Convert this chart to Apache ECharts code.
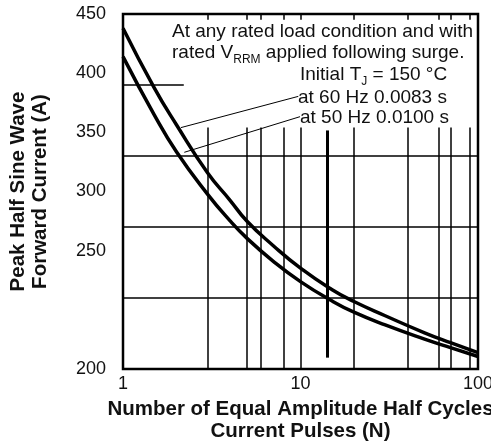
<!DOCTYPE html>
<html>
<head>
<meta charset="utf-8">
<script src="https://cdn.jsdelivr.net/npm/echarts@6/dist/echarts.min.js"></script>
<style>
html,body{margin:0;padding:0;background:#fff;}
#chart{width:491px;height:446px;}
</style>
</head>
<body>
<div id="chart"></div>
<script>
// ---- data ----
const pulses = [1, 1.5, 2, 3, 4, 5, 7, 10, 15, 20, 30, 50, 70, 100];
const current60Hz = [440, 398, 372, 338, 319, 304, 287, 271, 256, 247.5, 237.5, 225.5, 218.5, 211.5];
const current50Hz = [420, 379, 353, 323, 304.5, 292, 276, 261.5, 248, 240, 231, 221, 215, 208.8];
const yTickLabels = ['200', '', '250', '300', '350', '400', '450'];
const verticalGrid = [3, 5, 6, 8, 10, 20, 40, 60, 70, 90];
const fullHorizontalGrid = [350, 300, 250];
const partialHorizontalGrid = 400;
const markerPulse = 14.2;

const FONT = '"Liberation Sans", Arial, Helvetica, sans-serif';
const ink = '#000';

function seg(x1, y1, x2, y2, style) {
  const a = { coord: [x1, y1] };
  if (style) a.lineStyle = style;
  return [a, { coord: [x2, y2] }];
}

const gridSegs = [];
verticalGrid.forEach(v => {
  gridSegs.push(seg(v, 200, v, 370));
  gridSegs.push(seg(v, 450, v, 446));
});
fullHorizontalGrid.forEach(v => gridSegs.push(seg(1, v, 100, v)));
gridSegs.push(seg(1, partialHorizontalGrid, 2.2, partialHorizontalGrid));
gridSegs.push(seg(markerPulse, 208, markerPulse, 368, { width: 3, color: ink, type: 'solid' }));
// leader lines for annotations
gridSegs.push(seg(2.12, 370, 9.72, 392, { width: 1, color: ink, type: 'solid' }));
gridSegs.push(seg(2.215, 352.6, 9.94, 377.7, { width: 1, color: ink, type: 'solid' }));

const chart = echarts.init(document.getElementById('chart'), null, { renderer: 'canvas' });
chart.setOption({
  animation: false,
  backgroundColor: '#fff',
  grid: { left: 123, right: 13, top: 14, bottom: 77, show: true, borderColor: ink, borderWidth: 2.5,
          backgroundColor: 'transparent', containLabel: false, outerBoundsMode: 'none' },
  xAxis: {
    type: 'log', logBase: 10, min: 1, max: 100,
    axisLine: { show: false }, axisTick: { show: false }, splitLine: { show: false },
    axisLabel: { fontSize: 18, fontFamily: FONT, color: '#111', margin: 6 },
    name: 'Number of Equal Amplitude Half Cycles\nCurrent Pulses (N)',
    nameLocation: 'middle', nameGap: 28,
    nameTextStyle: { fontSize: 20.5, fontWeight: 'bold', fontFamily: FONT, color: '#111', lineHeight: 22 }
  },
  yAxis: [
    {
      type: 'value', min: 200, max: 450, interval: 50, position: 'left',
      axisLine: { show: false }, axisTick: { show: false }, splitLine: { show: false },
      axisLabel: { show: false },
      name: 'Peak Half Sine Wave\nForward Current (A)',
      nameLocation: 'middle', nameGap: 72, nameRotate: 90,
      nameTextStyle: { fontSize: 20.5, fontWeight: 'bold', fontFamily: FONT, color: '#111', lineHeight: 22 }
    },
    {
      type: 'value', min: 150, max: 450, interval: 50, position: 'left',
      axisLine: { show: false }, axisTick: { show: false }, splitLine: { show: false },
      axisLabel: {
        fontSize: 18, fontFamily: FONT, color: '#111', margin: 17,
        formatter: (v, i) => yTickLabels[i] !== undefined ? yTickLabels[i] : ''
      }
    }
  ],
  series: [
    {
      name: 'grid', type: 'line', data: [], silent: true, z: 1,
      markLine: {
        silent: true, symbol: ['none', 'none'], label: { show: false },
        lineStyle: { color: ink, width: 1.5, type: 'solid' },
        emphasis: { disabled: true },
        data: gridSegs
      }
    },
    {
      name: '60 Hz', type: 'line', smooth: 0.5, showSymbol: false, z: 3,
      data: pulses.map((p, i) => [p, current60Hz[i]]),
      lineStyle: { color: ink, width: 3.5 }
    },
    {
      name: '50 Hz', type: 'line', smooth: 0.5, showSymbol: false, z: 3,
      data: pulses.map((p, i) => [p, current50Hz[i]]),
      lineStyle: { color: ink, width: 3.5 }
    }
  ],
  graphic: [
    { type: 'text', x: 172, y: 32, style: { text: 'At any rated load condition and with', fontSize: 19, fontFamily: FONT, fill: '#111', verticalAlign: 'middle' } },
    { type: 'text', x: 172, y: 53, style: { text: 'rated V{sub|RRM} applied following surge.', fontSize: 19, fontFamily: FONT, fill: '#111', verticalAlign: 'middle',
        rich: { sub: { fontSize: 12, fontFamily: FONT, fill: '#111', verticalAlign: 'bottom', lineHeight: 26 } } } },
    { type: 'text', x: 300, y: 75, style: { text: 'Initial T{sub|J} = 150 °C', fontSize: 19, fontFamily: FONT, fill: '#111', verticalAlign: 'middle',
        rich: { sub: { fontSize: 12, fontFamily: FONT, fill: '#111', verticalAlign: 'bottom', lineHeight: 26 } } } },
    { type: 'text', x: 298, y: 98, style: { text: 'at 60 Hz 0.0083 s', fontSize: 19, fontFamily: FONT, fill: '#111', verticalAlign: 'middle' } },
    { type: 'text', x: 300, y: 118, style: { text: 'at 50 Hz 0.0100 s', fontSize: 19, fontFamily: FONT, fill: '#111', verticalAlign: 'middle' } }
  ]
});
</script>
</body>
</html>
